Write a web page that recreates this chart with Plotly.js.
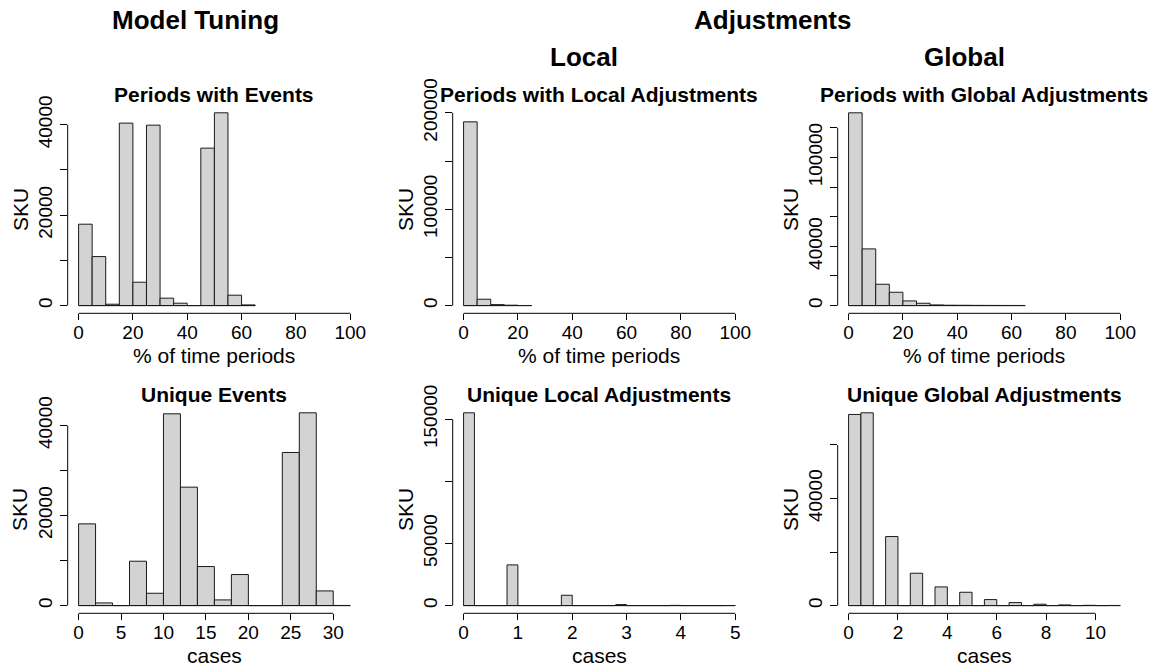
<!DOCTYPE html>
<html><head><meta charset="utf-8">
<script src="https://cdn.plot.ly/plotly-3.0.1.min.js"></script>
<style>html,body{margin:0;padding:0;background:#fff}</style>
</head><body><div id="chart" style="width:1163px;height:668px"></div>
<script>
// ---------- data ----------
const eventPeriodBreaks  = [0,5,10,15,20,25,30,35,40,45,50,55,60,65];
const eventPeriodCounts  = [18000,10840,300,40350,5170,39900,1640,530,0,34820,42630,2300,150];

const localPeriodBreaks  = [0,5,10,15,20,25];
const localPeriodCounts  = [190640,6600,1000,400,100];

const globalPeriodBreaks = [0,5,10,15,20,25,30,35,40,45,50,55,60,65];
const globalPeriodCounts = [130140,38270,14400,9000,3150,1580,450,250,200,150,120,100,80];

const eventCaseBreaks    = [0,2,4,6,8,10,12,14,16,18,20,22,24,26,28,30,32];
const eventCaseCounts    = [18150,590,0,9850,2740,42590,26300,8670,1260,6890,0,0,34000,42810,3260,30];

const localCaseBreaks    = [0,0.2,0.4,0.6,0.8,1,1.2,1.4,1.6,1.8,2,2.2,2.4,2.6,2.8,3,3.2,3.4,3.6,3.8,4,4.2,4.4,4.6,4.8,5];
const localCaseCounts    = [155130,0,0,0,32740,0,0,0,0,8320,0,0,0,0,800,0,0,0,0,150,0,0,0,0,50];

const globalCaseBreaks   = [0,0.5,1,1.5,2,2.5,3,3.5,4,4.5,5,5.5,6,6.5,7,7.5,8,8.5,9,9.5,10,10.5,11];
const globalCaseCounts   = [71400,72020,0,25790,0,12090,0,6980,0,4980,0,2240,0,1120,0,500,0,250,0,100,0,50];

const panelTitles = ["Periods with Events","Periods with Local Adjustments","Periods with Global Adjustments",
                     "Unique Events","Unique Local Adjustments","Unique Global Adjustments"];
const xTitles = ["% of time periods","% of time periods","% of time periods","cases","cases","cases"];
const yTitle = "SKU";
const headerTitles = ["Model Tuning","Adjustments","Local","Global"];

const pctTicks = [0,20,40,60,80,100];
const eventCaseTicks = [0,5,10,15,20,25,30];
const localCaseTicks = [0,1,2,3,4,5];
const globalCaseTicks = [0,2,4,6,8,10];

const yTicks1 = [0,10000,20000,30000,40000];          const yLabels1 = ["0","","20000","","40000"];
const yTicks2 = [0,50000,100000,150000,200000];       const yLabels2 = ["0","","100000","","200000"];
const yTicks3 = [0,20000,40000,60000,80000,100000,120000]; const yLabels3 = ["0","","40000","","","100000",""];
const yTicks4 = [0,10000,20000,30000,40000];          const yLabels4 = ["0","","20000","","40000"];
const yTicks5 = [0,50000,100000,150000];              const yLabels5 = ["0","50000","","150000"];
const yTicks6 = [0,20000,40000,60000];                const yLabels6 = ["0","","40000",""];

// ---------- panels ----------
const panels = [
  {breaks:eventPeriodBreaks,  counts:eventPeriodCounts,  xlim:[0,100], ylimTop:null,   xt:pctTicks,        yt:yTicks1, yl:yLabels1},
  {breaks:localPeriodBreaks,  counts:localPeriodCounts,  xlim:[0,100], ylimTop:200000, xt:pctTicks,        yt:yTicks2, yl:yLabels2},
  {breaks:globalPeriodBreaks, counts:globalPeriodCounts, xlim:[0,100], ylimTop:null,   xt:pctTicks,        yt:yTicks3, yl:yLabels3},
  {breaks:eventCaseBreaks,    counts:eventCaseCounts,    xlim:null,    ylimTop:null,   xt:eventCaseTicks,  yt:yTicks4, yl:yLabels4},
  {breaks:localCaseBreaks,    counts:localCaseCounts,    xlim:null,    ylimTop:null,   xt:localCaseTicks,  yt:yTicks5, yl:yLabels5},
  {breaks:globalCaseBreaks,   counts:globalCaseCounts,   xlim:null,    ylimTop:null,   xt:globalCaseTicks, yt:yTicks6, yl:yLabels6}
];

const W = 1163, H = 668;
const colLeft = [67.7, 452.7, 837.7], plotW = 293.4;
const rowTop = [105.1, 405.1], plotH = 208.2;
const FONT = "Liberation Sans, Arial, sans-serif";
const TICK_SIZE = 19;
const px = v => v / W, py = v => 1 - v / H;
const toPaper = (v, r, d) => d[0] + (v - r[0]) / (r[1] - r[0]) * (d[1] - d[0]);

const traces = [], shapes = [], annotations = [];
const layout = {
  width: W, height: H, margin:{l:0,r:0,t:0,b:0},
  paper_bgcolor:"#fff", plot_bgcolor:"#fff", showlegend:false,
  font:{family:FONT, color:"#000"}, bargap:0
};

panels.forEach((p, i) => {
  const n = i + 1, suf = n === 1 ? "" : String(n);
  const col = i % 3, row = Math.floor(i / 3);
  const b = p.breaks, c = p.counts;
  const centers = c.map((_, k) => (b[k] + b[k+1]) / 2);
  const widths = c.map((_, k) => b[k+1] - b[k]);
  traces.push({type:"bar", x:centers, y:c, width:widths, xaxis:"x"+suf, yaxis:"y"+suf,
    marker:{color:"#D3D3D3", line:{color:"#1a1a1a", width:1}}, hoverinfo:"x+y"});

  const xl = p.xlim || [b[0], b[b.length-1]];
  const xr = xl[1] - xl[0];
  const top = p.ylimTop || Math.max(...c);
  const xRange = [xl[0]-0.04*xr, xl[1]+0.04*xr];
  const yRange = [-0.04*top, 1.04*top];
  const xDom = [px(colLeft[col]), px(colLeft[col]+plotW)];
  const yDom = [py(rowTop[row]+plotH), py(rowTop[row])];
  layout["xaxis"+suf] = {
    domain:xDom, anchor:"y"+suf, range:xRange,
    showgrid:false, zeroline:false, showline:false,
    ticks:"outside", ticklen:6, tickcolor:"#000", tickwidth:1, ticklabelstandoff:-4,
    tickvals:p.xt, ticktext:p.xt.map(String), tickfont:{size:TICK_SIZE, family:FONT, color:"#000"},
    fixedrange:true
  };
  layout["yaxis"+suf] = {
    domain:yDom, anchor:"x"+suf, range:yRange,
    showgrid:false, zeroline:false, showline:false,
    ticks:"outside", ticklen:7, tickcolor:"#000", tickwidth:1, tickangle:-90,
    tickvals:p.yt, ticktext:p.yl, tickfont:{size:TICK_SIZE, family:FONT, color:"#000"},
    fixedrange:true
  };
  // R-style axis lines spanning first..last tick (paper refs so they are not clipped)
  shapes.push({type:"line", xref:"paper", yref:"paper",
               x0:toPaper(p.xt[0], xRange, xDom), x1:toPaper(p.xt[p.xt.length-1], xRange, xDom),
               y0:yDom[0], y1:yDom[0], line:{color:"#000", width:1}});
  shapes.push({type:"line", xref:"paper", yref:"paper", x0:xDom[0], x1:xDom[0],
               y0:toPaper(p.yt[0], yRange, yDom), y1:toPaper(p.yt[p.yt.length-1], yRange, yDom),
               line:{color:"#000", width:1}});
  // baseline under bars (zero-count bins)
  shapes.push({type:"line", xref:"x"+suf, yref:"y"+suf, x0:b[0], x1:b[b.length-1], y0:0, y1:0,
               line:{color:"#1a1a1a", width:1}});

  const cx = colLeft[col] + plotW/2;
  annotations.push({text:"<b>"+panelTitles[i]+"</b>", xref:"paper", yref:"paper", x:px(cx), y:py(94 + 300*row),
    xanchor:"center", yanchor:"middle", showarrow:false, font:{size:21, family:FONT, color:"#000"}});
  annotations.push({text:xTitles[i], xref:"paper", yref:"paper", x:px(cx), y:py(355.5 + 300*row),
    xanchor:"center", yanchor:"middle", showarrow:false, font:{size:21, family:FONT, color:"#000"}});
  annotations.push({text:yTitle, xref:"paper", yref:"paper", x:px(colLeft[col] - 48), y:py(rowTop[row] + plotH/2),
    xanchor:"center", yanchor:"middle", textangle:-90, showarrow:false, font:{size:21, family:FONT, color:"#000"}});
});

const headerPos = [[195,20],[772.7,20],[584,57],[964.5,57]];
headerTitles.forEach((t, k) => {
  annotations.push({text:"<b>"+t+"</b>", xref:"paper", yref:"paper", x:px(headerPos[k][0]), y:py(headerPos[k][1]),
    xanchor:"center", yanchor:"middle", showarrow:false, font:{size:26, family:FONT, color:"#000"}});
});

layout.shapes = shapes;
layout.annotations = annotations;
Plotly.newPlot("chart", traces, layout, {displayModeBar:false, staticPlot:true});
</script>
</body></html>
